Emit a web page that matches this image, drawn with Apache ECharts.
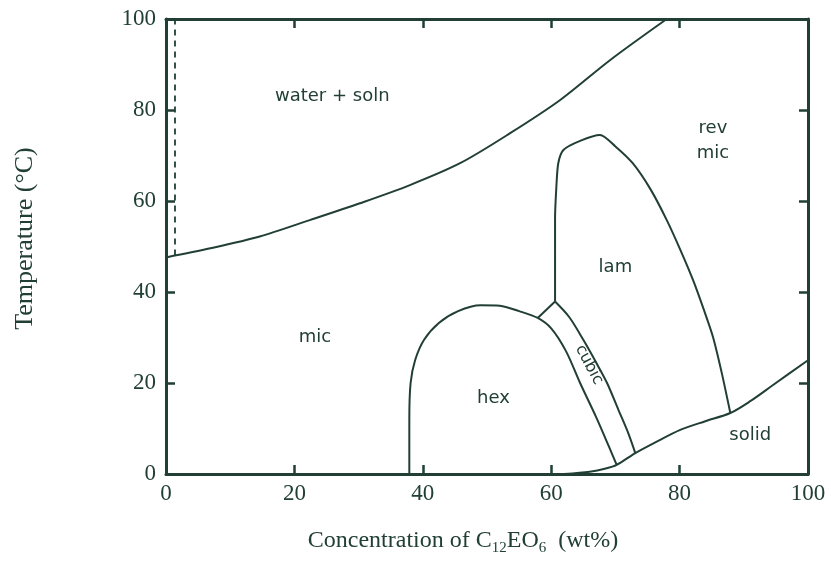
<!DOCTYPE html>
<html>
<head>
<meta charset="utf-8">
<script src="https://cdn.jsdelivr.net/npm/echarts@6/dist/echarts.min.js"></script>
<style>
html,body{margin:0;padding:0;background:#fff;}
#main{width:831px;height:561px;}
</style>
</head>
<body>
<div id="main"></div>
<script>
// phase boundaries, [wt%, T]
var cloudLine = [[0,47.6],[6.9,49.6],[14.6,52.2],[22.4,55.8],[30.2,59.5],[38,63.5],[45.8,68.3],[53.6,74.9],[61.4,82.2],[69.2,91],[78,100]];
var dashLine = [[1.4,48],[1.4,100]];
var hexLine = [[37.9,0],[37.9,12],[38.1,20],[38.8,25],[40.2,29.5],[42.5,33.2],[45.5,35.8],[49,37.1],[52,37],[55,35.8],[57.9,34.3],[60,32],[62.3,27],[64.5,20],[67,12.5],[69,6],[70.2,2]];
var cubJoin = [[57.9,34.3],[60.6,37.9]];
var cubLine = [[60.6,37.9],[62.8,34.5],[65,29.5],[67,24.5],[68.7,20],[70.5,14],[72,9],[73.1,4.6]];
var lamLine = [[60.6,37.9],[60.6,48],[60.6,56],[60.8,63],[61.1,68.3],[61.9,71.2],[64.5,73.2],[67.6,74.5],[70,72],[72.7,68.3],[75.5,62.5],[78,55.8],[80.2,49],[82.1,42.6],[83.8,36],[85.2,30.1],[86.6,22],[87.9,13.4]];
var solidLine = [[62,0],[66,0.5],[68.5,1.2],[70.2,2],[73.1,4.6],[76,6.8],[80.1,9.7],[84,11.6],[87.9,13.4],[91,16],[94.5,19.5],[100,25]];
// region labels
var labelText = ['water + soln','rev','mic','lam','mic','hex','solid'];
var labelPos = [[25.9,83],[85.2,76],[85.2,70.5],[70,45.5],[23.2,30],[51,16.7],[91,8.4]];
var cubicPos = [65.9,24];

var ink = '#213f35';
var chart = echarts.init(document.getElementById('main'));

function boundary(d, smooth, type, w){
	return {type:'line', data:d, showSymbol:false, smooth:smooth, silent:true,
		lineStyle:{color:ink, width:w||2, type:type||'solid'}, xAxisIndex:0, yAxisIndex:0};
}

var labelData = [];
for(var i=0;i<labelText.length;i++){
	labelData.push({value:labelPos[i], label:{formatter:labelText[i]}});
}

var axisCommon = {
	min:0, max:100, interval:20,
	axisLine:{show:true, onZero:false, lineStyle:{color:ink, width:3}},
	axisTick:{show:true, inside:true, length:9, lineStyle:{color:ink, width:2.5}},
	splitLine:{show:false}
};

var option = {
	backgroundColor:'#fff',
	animation:false,
	grid:{left:166, right:23, top:19, bottom:87, containLabel:false, outerBoundsMode:'none'}
};
option.xAxis = [
	Object.assign({}, axisCommon, {type:'value', position:'bottom',
		axisLabel:{color:ink, fontFamily:'Liberation Serif', fontSize:23, margin:8},
		name:'Concentration of C{s|12}EO{s|6}  (wt%)', nameLocation:'middle', nameGap:51,
		nameTextStyle:{color:ink, fontFamily:'Liberation Serif', fontSize:24, padding:[0,48,0,0],
			rich:{s:{fontFamily:'Liberation Serif', fontSize:15, color:ink, padding:[16,0,0,0]}}}}),
	Object.assign({}, axisCommon, {type:'value', position:'top', axisLabel:{show:false}})
];
option.yAxis = [
	Object.assign({}, axisCommon, {type:'value', position:'left',
		axisLabel:{color:ink, fontFamily:'Liberation Serif', fontSize:23, margin:10},
		name:'Temperature (°C)', nameLocation:'middle', nameGap:128, nameRotate:90,
		nameTextStyle:{color:ink, fontFamily:'Liberation Serif', fontSize:26, padding:[0,0,0,16]}}),
	Object.assign({}, axisCommon, {type:'value', position:'right', axisLabel:{show:false}})
];
option.series = [
	boundary(cloudLine, 0.3),
	boundary(dashLine, false, [6,5], 1.8),
	boundary(hexLine, 0.3),
	boundary(cubJoin, false),
	boundary(cubLine, 0.3),
	boundary(lamLine, 0.25),
	boundary(solidLine, 0.3),
	{type:'scatter', data:labelData, symbolSize:0, silent:true, itemStyle:{opacity:1},
		label:{show:true, position:'inside', color:ink, opacity:1, fontFamily:'DejaVu Sans', fontSize:18}},
	{type:'scatter', data:[cubicPos], symbolSize:0, silent:true, itemStyle:{opacity:1},
		label:{show:true, position:'inside', formatter:'cubic', rotate:-62, color:ink, opacity:1, fontFamily:'DejaVu Sans', fontSize:16}}
];
chart.setOption(option);
</script>
</body>
</html>
